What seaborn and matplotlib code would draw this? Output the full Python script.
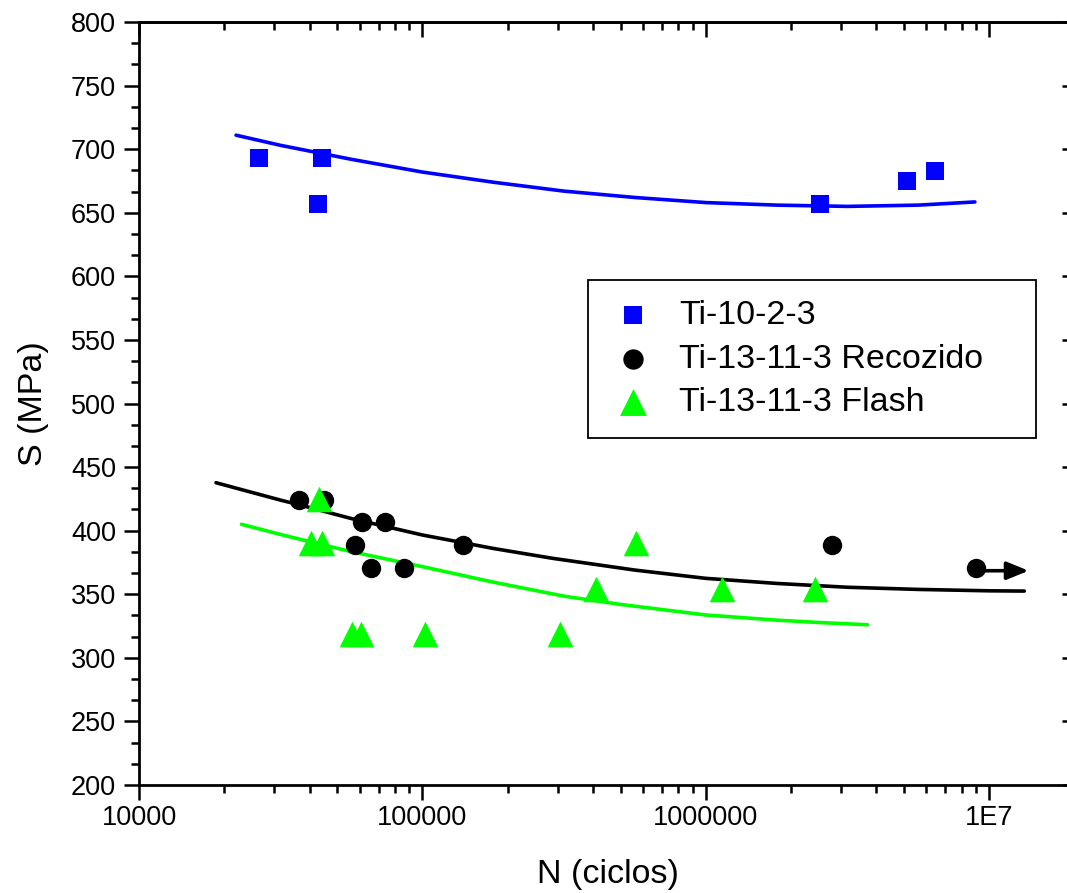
import matplotlib
matplotlib.use("Agg")
import matplotlib.pyplot as plt
import seaborn as sns
from matplotlib.ticker import LogLocator, FixedLocator, MultipleLocator, NullFormatter

# ---------------- data ----------------
labels = ["Ti-10-2-3", "Ti-13-11-3 Recozido", "Ti-13-11-3 Flash"]

ti1023_N = [26500, 44200, 42800, 2.52e6, 5.12e6, 6.42e6]
ti1023_S = [693, 693, 657, 657, 675, 683]

rec_N = [36700, 44800, 61400, 73900, 57700, 65600, 86000, 139000, 2.79e6, 9.0e6]
rec_S = [424, 424, 407, 407, 389, 371, 371, 389, 389, 371]

flash_N = [43300, 40300, 44400, 56300, 60500, 102000, 306000, 411000, 565000, 1.145e6, 2.42e6]
flash_S = [425, 390, 390, 319, 319, 319, 319, 354, 390, 354, 354]

# fitted curves as drawn in the reference
fit1023_N = [2.2e4, 3.16e4, 5.62e4, 1.0e5, 1.78e5, 3.16e5, 5.62e5, 1.0e6, 1.78e6, 3.16e6, 5.62e6, 8.9e6]
fit1023_S = [711, 703, 692, 682, 674, 667, 662, 658, 656, 655, 656, 658.5]

fitrec_N = [1.87e4, 3.16e4, 3.7e4, 5.62e4, 1.0e5, 1.78e5, 2.87e5, 5.62e5, 1.0e6, 1.78e6, 3.16e6, 5.62e6, 1.0e7, 1.33e7]
fitrec_S = [437.7, 424, 420.2, 409.5, 396.6, 386, 378.3, 369, 362.5, 358.5, 355.5, 353.8, 352.7, 352.5]

fitfl_N = [2.3e4, 3.16e4, 4.48e4, 5.62e4, 1.0e5, 1.78e5, 3.16e5, 5.0e5, 1.0e6, 1.76e6, 2.5e6, 3.72e6]
fitfl_S = [405, 397, 388.7, 383.5, 371.7, 359.5, 348.5, 342, 333.7, 329.7, 327.8, 326]

x_ticks = [1e4, 1e5, 1e6, 1e7]
x_ticklabels = ["10000", "100000", "1000000", "1E7"]
y_ticks = list(range(200, 801, 50))

colors = ["#0000FF", "#000000", "#00FF00"]
markers = ["s", "o", "^"]
msizes = [160, 195, 340]

# ---------------- figure ----------------
sns.set_theme(style="white")
plt.rcParams["font.family"] = ["Liberation Sans", "DejaVu Sans"]
plt.rcParams["text.color"] = "black"
plt.rcParams["axes.labelcolor"] = "black"
plt.rcParams["xtick.color"] = "black"
plt.rcParams["ytick.color"] = "black"

W, H = 1067, 893
fig = plt.figure(figsize=(W / 100, H / 100), dpi=100)
L, R, T, B = 139, 1077, 22, 785
ax = fig.add_axes([L / W, (H - B) / H, (R - L) / W, (B - T) / H])

series = [(ti1023_N, ti1023_S), (rec_N, rec_S), (flash_N, flash_S)]
fits = [(fit1023_N, fit1023_S), (fitrec_N, fitrec_S), (fitfl_N, fitfl_S)]

for (fx, fy), c in zip(fits, colors):
    sns.lineplot(x=fx, y=fy, ax=ax, color=c, lw=2.6, errorbar=None, zorder=2)

for (xs, ys), c, m, s, lab in zip(series, colors, markers, msizes, labels):
    sns.scatterplot(x=xs, y=ys, ax=ax, color=c, marker=m, s=s, linewidth=0,
                    label=lab, zorder=3)

# run-out arrow on the last annealed specimen
ax.annotate("", xy=(rec_N[-1] * 1.53, rec_S[-1] - 2.5), xytext=(rec_N[-1] * 1.06, rec_S[-1] - 2.5),
            arrowprops=dict(arrowstyle="-|>,head_length=1.1,head_width=0.45", color="black",
                            lw=2.6, shrinkA=0, shrinkB=0), zorder=4)

ax.set_xscale("log")
ax.set_xlim(1e4, 2.04e7)
ax.set_ylim(200, 800)

ax.xaxis.set_major_locator(FixedLocator(x_ticks))
ax.set_xticklabels(x_ticklabels)
ax.xaxis.set_minor_locator(LogLocator(base=10, subs=range(2, 10), numticks=20))
ax.xaxis.set_minor_formatter(NullFormatter())
ax.yaxis.set_major_locator(FixedLocator(y_ticks))
ax.yaxis.set_minor_locator(MultipleLocator(50 / 3))

for sp in ax.spines.values():
    sp.set_linewidth(2.0)
    sp.set_color("black")

ax.tick_params(which="both", bottom=True, left=True, top=False, right=False)
ax.tick_params(which="major", direction="out", length=10.5, width=1.8, color="black",
               labelsize=19.5, labelcolor="black")
ax.tick_params(which="minor", direction="out", length=5.5, width=1.8, color="black")
ax.tick_params(axis="x", which="major", pad=4)
ax.tick_params(axis="y", which="major", pad=6)

# mirrored inward ticks on top and right
secx = ax.secondary_xaxis("top")
secx.xaxis.set_major_locator(FixedLocator(x_ticks))
secx.xaxis.set_minor_locator(LogLocator(base=10, subs=range(2, 10), numticks=20))
secx.tick_params(which="both", top=True)
secx.tick_params(which="major", direction="in", length=10.5, width=1.8, labeltop=False)
secx.tick_params(which="minor", direction="in", length=5.5, width=1.8, labeltop=False)
secx.xaxis.set_major_formatter(NullFormatter())
secx.xaxis.set_minor_formatter(NullFormatter())
secx.spines["top"].set_linewidth(2.0)

secy = ax.secondary_yaxis("right")
secy.yaxis.set_major_locator(FixedLocator(y_ticks))
secy.yaxis.set_minor_locator(MultipleLocator(50 / 3))
secy.tick_params(which="both", right=True)
secy.tick_params(which="major", direction="in", length=10.5, width=1.8, labelright=False)
secy.tick_params(which="minor", direction="in", length=5.5, width=1.8, labelright=False)
secy.yaxis.set_major_formatter(NullFormatter())
secy.spines["right"].set_linewidth(2.0)

ax.set_xlabel("N (ciclos)", fontsize=24.5, labelpad=20, color="black")
ax.set_ylabel("S (MPa)", fontsize=24.5, labelpad=16, color="black")

# legend box
lx0 = (588 - L) / (R - L)
ly0 = (B - 434) / (B - T)
lw_ = (1036 - 588) / (R - L)
lh_ = (434 - 280) / (B - T)
leg = ax.legend(loc="upper left", bbox_to_anchor=(lx0, ly0, lw_, lh_), mode="expand",
                borderaxespad=0, fontsize=24.5, frameon=True, fancybox=False,
                borderpad=0.6, handlelength=1.45, handletextpad=0.62,
                labelspacing=0.36, markerscale=1.05)
leg.get_frame().set_edgecolor("black")
leg.get_frame().set_linewidth(1.3)
leg.get_frame().set_alpha(1)
for t in leg.get_texts():
    t.set_color("black")

fig.savefig("out.png", dpi=100)
